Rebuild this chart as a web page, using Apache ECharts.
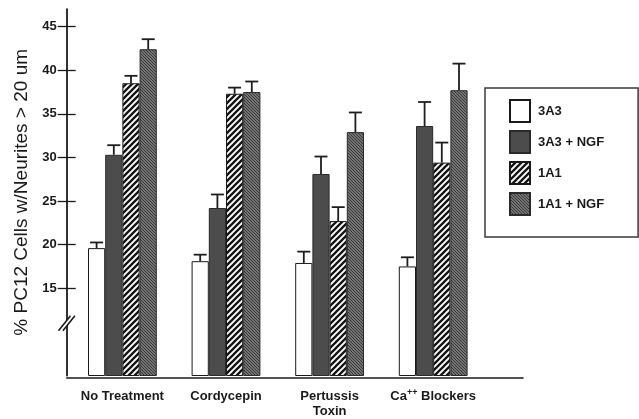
<!DOCTYPE html>
<html>
<head>
<meta charset="utf-8">
<script src="https://cdn.jsdelivr.net/npm/echarts@6/dist/echarts.min.js"></script>
<style>
  html, body { margin: 0; padding: 0; background: #fff; }
  #chart { width: 639px; height: 419px; }
</style>
</head>
<body>
<div id="chart"></div>
<script>
// Treatment groups along the x axis
const categories = ['No Treatment', 'Cordycepin', 'Pertussis\nToxin', 'Ca++ Blockers'];

// Mean % of PC12 cells with neurites > 20 um, and the upper error (SEM)
const mean3A3     = [19.6, 18.1, 17.9, 17.5];
const err3A3      = [0.65, 0.75, 1.3, 1.05];
const mean3A3NGF  = [30.3, 24.2, 28.1, 33.6];
const err3A3NGF   = [1.1, 1.55, 2.0, 2.75];
const mean1A1     = [38.5, 37.3, 22.7, 29.4];
const err1A1      = [0.85, 0.7, 1.6, 2.3];
const mean1A1NGF  = [42.4, 37.5, 32.9, 37.7];
const err1A1NGF   = [1.15, 1.2, 2.25, 3.05];

const seriesNames = ['3A3', '3A3 + NGF', '1A1', '1A1 + NGF'];
const yTicks = [15, 20, 25, 30, 35, 40, 45];

const FONT = '"Liberation Sans", Arial, Helvetica, sans-serif';
const BAR_W = 17.2;

// Fill tiles: bold "////" stripes and a fine "\\\\" hatch
function stripeTile() {
  const s = 6, c = document.createElement('canvas');
  c.width = c.height = s;
  const g = c.getContext('2d');
  g.fillStyle = '#fff'; g.fillRect(0, 0, s, s);
  g.strokeStyle = '#141414'; g.lineWidth = 2.3;
  g.beginPath();
  g.moveTo(-1, s + 1); g.lineTo(s + 1, -1);
  g.moveTo(-1, 1); g.lineTo(1, -1);
  g.moveTo(s - 1, s + 1); g.lineTo(s + 1, s - 1);
  g.stroke();
  return c;
}
function hatchTile() {
  const s = 3, c = document.createElement('canvas');
  c.width = c.height = s;
  const g = c.getContext('2d');
  g.fillStyle = '#747474'; g.fillRect(0, 0, s, s);
  g.strokeStyle = '#383838'; g.lineWidth = 1;
  g.beginPath();
  g.moveTo(-1, -1); g.lineTo(s + 1, s + 1);
  g.moveTo(s - 1, -1); g.lineTo(s + 1, 1);
  g.moveTo(-1, s - 1); g.lineTo(1, s + 1);
  g.stroke();
  return c;
}

const fills = [
  { color: '#ffffff', borderColor: '#1a1a1a' },
  { color: '#4c4c4c', borderColor: '#2a2a2a' },
  { color: { image: stripeTile(), repeat: 'repeat' }, borderColor: '#1a1a1a' },
  { color: { image: hatchTile(), repeat: 'repeat' }, borderColor: '#2a2a2a' }
];

const means = [mean3A3, mean3A3NGF, mean1A1, mean1A1NGF];
const errs = [err3A3, err3A3NGF, err1A1, err1A1NGF];

const barSeries = seriesNames.map((name, k) => ({
  name: name,
  type: 'bar',
  xAxisIndex: 0,
  yAxisIndex: 0,
  barWidth: BAR_W,
  barGap: '0%',
  data: means[k],
  itemStyle: { color: fills[k].color, borderColor: fills[k].borderColor, borderWidth: 1 },
  emphasis: { disabled: true },
  z: 2
}));

// Error bar records: [category index, series index, mean, error]
const errorData = [];
means.forEach((arr, k) => arr.forEach((v, i) => errorData.push([i, k, v, errs[k][i]])));

const errorSeries = {
  type: 'custom',
  xAxisIndex: 0,
  yAxisIndex: 0,
  data: errorData,
  z: 5,
  silent: true,
  renderItem: function (params, api) {
    const k = api.value(1);
    const dx = (k - 1.5) * BAR_W;
    const lo = api.coord([api.value(0), api.value(2)]);
    const hi = api.coord([api.value(0), api.value(2) + api.value(3)]);
    const x = lo[0] + dx;
    const st = { stroke: '#1e1e1e', lineWidth: 1.8 };
    return {
      type: 'group',
      children: [
        { type: 'line', shape: { x1: x, y1: lo[1], x2: x, y2: hi[1] }, style: st },
        { type: 'line', shape: { x1: x - 6.5, y1: hi[1], x2: x + 6.5, y2: hi[1] }, style: st }
      ]
    };
  }
};

const chart = echarts.init(document.getElementById('chart'), null, { renderer: 'canvas' });

const option = {
  backgroundColor: '#ffffff',
  animation: false,
  textStyle: { fontFamily: FONT },
  grid: [
    { left: 70.6, width: 414.4, top: 9.1, bottom: 41.1 },
    { left: 66.7, right: 116, top: 9.1, bottom: 41.1 }
  ],
  legend: {
    orient: 'vertical',
    left: 485,
    top: 88,
    data: seriesNames,
    icon: 'rect',
    itemWidth: 20,
    itemHeight: 22,
    itemGap: 7,
    padding: [11, 34, 21, 24],
    borderColor: '#3a3a3a',
    borderWidth: 1.5,
    selectedMode: false,
    textStyle: {
      fontFamily: FONT, fontSize: 13, fontWeight: 'bold', color: '#1a1a1a',
      width: 72, padding: [0, 0, 0, 3]
    }
  },
  xAxis: [
    {
      type: 'category',
      gridIndex: 0,
      data: categories,
      axisLine: { show: false },
      axisTick: { show: false },
      axisLabel: {
        interval: 0,
        margin: 13.5,
        fontFamily: FONT,
        fontSize: 13,
        fontWeight: 'bold',
        color: '#1a1a1a',
        lineHeight: 15,
        formatter: function (v) {
          if (v.indexOf('Ca++') === 0) {
            return '{n|Ca}{s|++}{n|' + v.slice(4) + '}';
          }
          return v;
        },
        rich: {
          n: { fontFamily: FONT, fontSize: 13, fontWeight: 'bold', color: '#1a1a1a', lineHeight: 15 },
          s: { fontFamily: FONT, fontSize: 9, fontWeight: 'bold', color: '#1a1a1a', lineHeight: 15, padding: [0, 0, 7, 0] }
        }
      }
    },
    {
      type: 'value',
      gridIndex: 1,
      min: 0, max: 1,
      axisLine: { show: true, lineStyle: { color: '#1a1a1a', width: 1.6 } },
      axisTick: { show: false },
      axisLabel: { show: false },
      splitLine: { show: false }
    }
  ],
  yAxis: [
    {
      type: 'value',
      gridIndex: 0,
      min: 5,
      max: 47,
      offset: 3.9,
      name: '% PC12 Cells w/Neurites > 20 um',
      nameLocation: 'middle',
      nameGap: 31,
      nameTextStyle: { fontFamily: FONT, fontSize: 19, color: '#1a1a1a', padding: [0, 0, 0, 0] },
      axisLine: { show: true, lineStyle: { color: '#1a1a1a', width: 1.8 } },
      axisTick: { show: true, length: 9, inside: false, customValues: yTicks, lineStyle: { color: '#1a1a1a', width: 1.3 } },
      axisLabel: {
        customValues: yTicks,
        margin: 10,
        fontFamily: FONT, fontSize: 13, fontWeight: 'bold', color: '#1a1a1a'
      },
      splitLine: { show: false }
    },
    {
      type: 'value',
      gridIndex: 0,
      min: 5,
      max: 47,
      offset: 3.9,
      position: 'left',
      axisLine: { show: false },
      axisTick: { show: true, length: 9, inside: true, customValues: yTicks, lineStyle: { color: '#1a1a1a', width: 1.3 } },
      axisLabel: { show: false },
      splitLine: { show: false }
    },
    {
      type: 'value',
      gridIndex: 1,
      show: false
    }
  ],
  series: barSeries.concat([errorSeries])
};

chart.setOption(option);

// Axis-break mark "//" across the y axis, placed at value 11 on the y scale
(function drawBreak() {
  const y = chart.convertToPixel({ yAxisIndex: 0 }, 11);
  const x = chart.convertToPixel({ xAxisIndex: 1 }, 0);
  const h = 7.5, w = 6, sep = 2.2;
  chart.setOption({
    graphic: [
      {
        type: 'polygon', z: 100,
        shape: { points: [[x - w - sep, y + h], [x + w - sep, y - h], [x + w + sep, y - h], [x - w + sep, y + h]] },
        style: { fill: '#ffffff' }
      },
      {
        type: 'line', z: 101,
        shape: { x1: x - w - sep, y1: y + h, x2: x + w - sep, y2: y - h },
        style: { stroke: '#1a1a1a', lineWidth: 1.6 }
      },
      {
        type: 'line', z: 101,
        shape: { x1: x - w + sep, y1: y + h, x2: x + w + sep, y2: y - h },
        style: { stroke: '#1a1a1a', lineWidth: 1.6 }
      }
    ]
  });
})();
</script>
</body>
</html>
